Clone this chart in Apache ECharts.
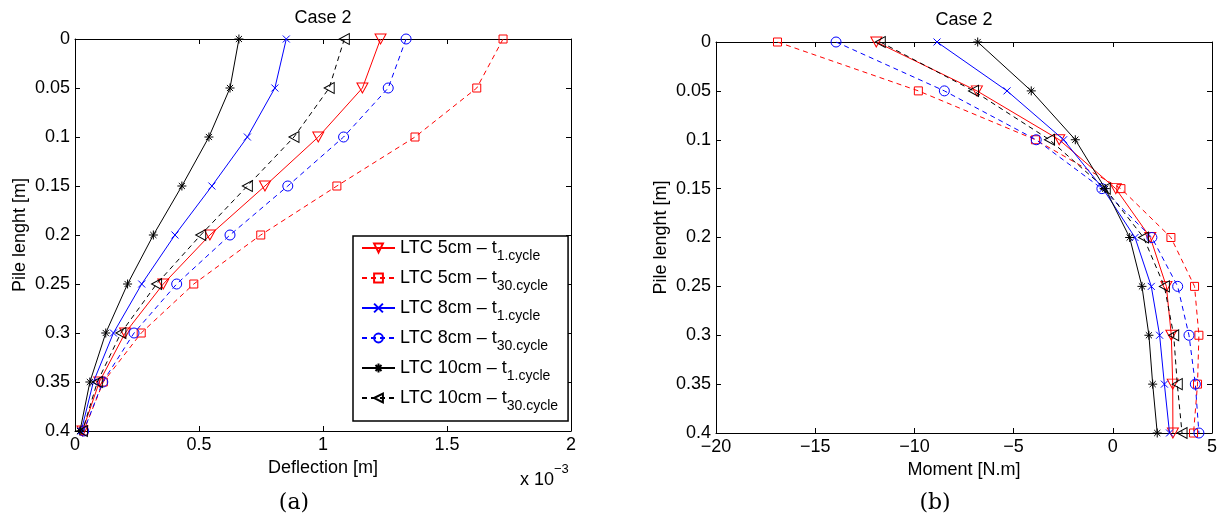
<!DOCTYPE html>
<html>
<head>
<meta charset="utf-8">
<script src="https://cdn.jsdelivr.net/npm/echarts@6/dist/echarts.min.js"></script>
<style>html,body{margin:0;padding:0;background:#fff}#c{width:1229px;height:522px}</style>
</head>
<body>
<div id="c"></div>
<script>
// ---- data ----
const depth = [0, 0.05, 0.1, 0.15, 0.2, 0.25, 0.3, 0.35, 0.4];
const seriesNames = ['LTC 5cm – t|1.cycle', 'LTC 5cm – t|30.cycle', 'LTC 8cm – t|1.cycle',
                     'LTC 8cm – t|30.cycle', 'LTC 10cm – t|1.cycle', 'LTC 10cm – t|30.cycle'];
// deflection, in units of 1e-3 m
const defl5_t1   = [1.232, 1.159, 0.981, 0.766, 0.544, 0.356, 0.202, 0.098, 0.030];
const defl5_t30  = [1.726, 1.620, 1.371, 1.056, 0.749, 0.479, 0.267, 0.114, 0.035];
const defl8_t1   = [0.852, 0.806, 0.695, 0.552, 0.403, 0.269, 0.155, 0.074, 0.025];
const defl8_t30  = [1.335, 1.263, 1.083, 0.858, 0.625, 0.410, 0.238, 0.112, 0.035];
const defl10_t1  = [0.661, 0.625, 0.540, 0.431, 0.316, 0.212, 0.124, 0.060, 0.020];
const defl10_t30 = [1.086, 1.025, 0.883, 0.695, 0.507, 0.329, 0.185, 0.090, 0.030];
// moment, N.m
const mom5_t1   = [-11.92, -6.85, -2.70, 0.15, 1.89, 2.70, 2.95, 3.02, 3.03];
const mom5_t30  = [-16.90, -9.80, -3.90, 0.41, 2.93, 4.12, 4.34, 4.27, 4.07];
const mom8_t1   = [-8.86, -5.33, -2.48, -0.50, 1.12, 1.94, 2.36, 2.60, 2.86];
const mom8_t30  = [-13.95, -8.49, -3.86, -0.55, 1.97, 3.27, 3.84, 4.16, 4.34];
const mom10_t1  = [-6.81, -4.11, -1.89, -0.38, 0.85, 1.47, 1.82, 2.01, 2.24];
const mom10_t30 = [-11.72, -7.02, -3.19, -0.38, 1.55, 2.60, 3.07, 3.25, 3.49];
const yTicks = ['0', '0.05', '0.1', '0.15', '0.2', '0.25', '0.3', '0.35', '0.4'];
const deflTicks = ['0', '0.5', '1', '1.5', '2'];
const momTicks = ['−20', '−15', '−10', '−5', '0', '5'];

// ---- styling ----
const FONT = '"Liberation Sans", Arial, Helvetica, sans-serif';
const STAR = 'path://M5,0L5,10M0,5L10,5M1.6,1.6L8.4,8.4M8.4,1.6L1.6,8.4';
const XMARK = 'path://M0,0L10,10M10,0L0,10';
const styles = [
  {color: '#ff0000', dash: false, symbol: 'triangle', size: [11, 10], rot: 180},
  {color: '#ff0000', dash: true,  symbol: 'rect', size: 8, rot: 0},
  {color: '#0000ff', dash: false, symbol: XMARK, size: 7, rot: 0},
  {color: '#0000ff', dash: true,  symbol: 'circle', size: 10, rot: 0},
  {color: '#000000', dash: false, symbol: STAR, size: 9, rot: 0},
  {color: '#000000', dash: true,  symbol: 'triangle', size: [11, 10], rot: 90}
];
const deflSets = [defl5_t1, defl5_t30, defl8_t1, defl8_t30, defl10_t1, defl10_t30];
const momSets = [mom5_t1, mom5_t30, mom8_t1, mom8_t30, mom10_t1, mom10_t30];

function mk(i, xs, grid) {
  const s = styles[i];
  return {
    type: 'line', name: seriesNames[i],
    xAxisIndex: grid * 2, yAxisIndex: grid * 2,
    data: xs.map((v, k) => [v, depth[k]]),
    symbol: s.symbol, symbolSize: s.size, symbolRotate: s.rot,
    showSymbol: true, showAllSymbol: true,
    lineStyle: {color: s.color, width: 1, type: s.dash ? [5, 4] : 'solid'},
    itemStyle: {color: 'rgba(0,0,0,0)', borderColor: s.color, borderWidth: 1},
    emphasis: {disabled: true}, silent: true, z: 2 + i
  };
}

function xAxes(grid, min, max, interval, labels, name) {
  const lab = (v) => labels[Math.round((v - min) / interval)];
  return [
    {gridIndex: grid, type: 'value', position: 'bottom', min, max, interval,
     axisLine: {show: true, onZero: false, lineStyle: {color: '#000', width: 1}},
     axisTick: {show: true, inside: true, length: 5, lineStyle: {color: '#000'}},
     axisLabel: {show: true, formatter: lab, color: '#000', fontSize: 18, fontFamily: FONT, margin: 5},
     splitLine: {show: false},
     name, nameLocation: 'middle', nameGap: 28,
     nameTextStyle: {color: '#000', fontSize: 18, fontFamily: FONT}},
    {gridIndex: grid, type: 'value', position: 'top', min, max, interval,
     axisLine: {show: true, onZero: false, lineStyle: {color: '#000', width: 1}},
     axisTick: {show: true, inside: true, length: 5, lineStyle: {color: '#000'}},
     axisLabel: {show: false}, splitLine: {show: false}}
  ];
}
function yAxes(grid, nameGap) {
  const lab = (v) => yTicks[Math.round(v / 0.05)];
  return [
    {gridIndex: grid, type: 'value', position: 'left', inverse: true, min: 0, max: 0.4, interval: 0.05,
     axisLine: {show: true, onZero: false, lineStyle: {color: '#000', width: 1}},
     axisTick: {show: true, inside: true, length: 5, lineStyle: {color: '#000'}},
     axisLabel: {show: true, formatter: lab, color: '#000', fontSize: 18, fontFamily: FONT, margin: 5},
     splitLine: {show: false},
     name: 'Pile lenght [m]', nameLocation: 'middle', nameGap, nameRotate: 90,
     nameTextStyle: {color: '#000', fontSize: 18, fontFamily: FONT}},
    {gridIndex: grid, type: 'value', position: 'right', inverse: true, min: 0, max: 0.4, interval: 0.05,
     axisLine: {show: true, onZero: false, lineStyle: {color: '#000', width: 1}},
     axisTick: {show: true, inside: true, length: 5, lineStyle: {color: '#000'}},
     axisLabel: {show: false}, splitLine: {show: false}}
  ];
}

const series = [];
deflSets.forEach((d, i) => series.push(mk(i, d, 0)));
momSets.forEach((d, i) => series.push(mk(i, d, 1)));
const xa = xAxes(0, 0, 2, 0.5, deflTicks, 'Deflection [m]').concat(xAxes(1, -20, 5, 5, momTicks, 'Moment [N.m]'));
const ya = yAxes(0, 46).concat(yAxes(1, 46));

const chart = echarts.init(document.getElementById('c'), null, {renderer: 'canvas'});
chart.setOption({
  animation: false,
  backgroundColor: '#fff',
  grid: [
    {left: 75, top: 39, width: 496, height: 392},
    {left: 716, top: 42, width: 496, height: 391}
  ],
  xAxis: xa,
  yAxis: ya,
  legend: {
    show: true, orient: 'vertical', left: 353, top: 236,
    data: seriesNames,
    borderColor: '#000', borderWidth: 1.5, backgroundColor: '#fff',
    padding: [3, 10, 8, 8], itemGap: 6, itemWidth: 33, itemHeight: 11,
    selectedMode: false,
    formatter: (n) => { const p = n.split('|'); return '{a|' + p[0] + '}{b|' + p[1] + '}'; },
    textStyle: {
      color: '#000', fontFamily: FONT,
      rich: {
        a: {fontSize: 18, fontFamily: FONT, color: '#000', lineHeight: 30},
        b: {fontSize: 14, fontFamily: FONT, color: '#000', lineHeight: 14, verticalAlign: 'bottom'}
      }
    }
  },
  graphic: [
    {type: 'text', x: 323, y: 18, style: {text: 'Case 2', font: '18px ' + FONT, fill: '#000', align: 'center', verticalAlign: 'middle'}},
    {type: 'text', x: 964, y: 20, style: {text: 'Case 2', font: '18px ' + FONT, fill: '#000', align: 'center', verticalAlign: 'middle'}},
    {type: 'text', x: 520, y: 476, style: {text: '{a|x 10}{b|−3}', fill: '#000', align: 'left', verticalAlign: 'middle',
      rich: {a: {fontSize: 18, fontFamily: FONT, lineHeight: 26, verticalAlign: 'bottom'},
             b: {fontSize: 13, fontFamily: FONT, lineHeight: 14, verticalAlign: 'top'}}}},
    {type: 'text', x: 294, y: 503, style: {text: '(a)', font: '22px "DejaVu Serif", "Liberation Serif", serif', fill: '#000', align: 'center', verticalAlign: 'middle'}},
    {type: 'text', x: 935, y: 503, style: {text: '(b)', font: '22px "DejaVu Serif", "Liberation Serif", serif', fill: '#000', align: 'center', verticalAlign: 'middle'}}
  ],
  series
});
</script>
</body>
</html>
